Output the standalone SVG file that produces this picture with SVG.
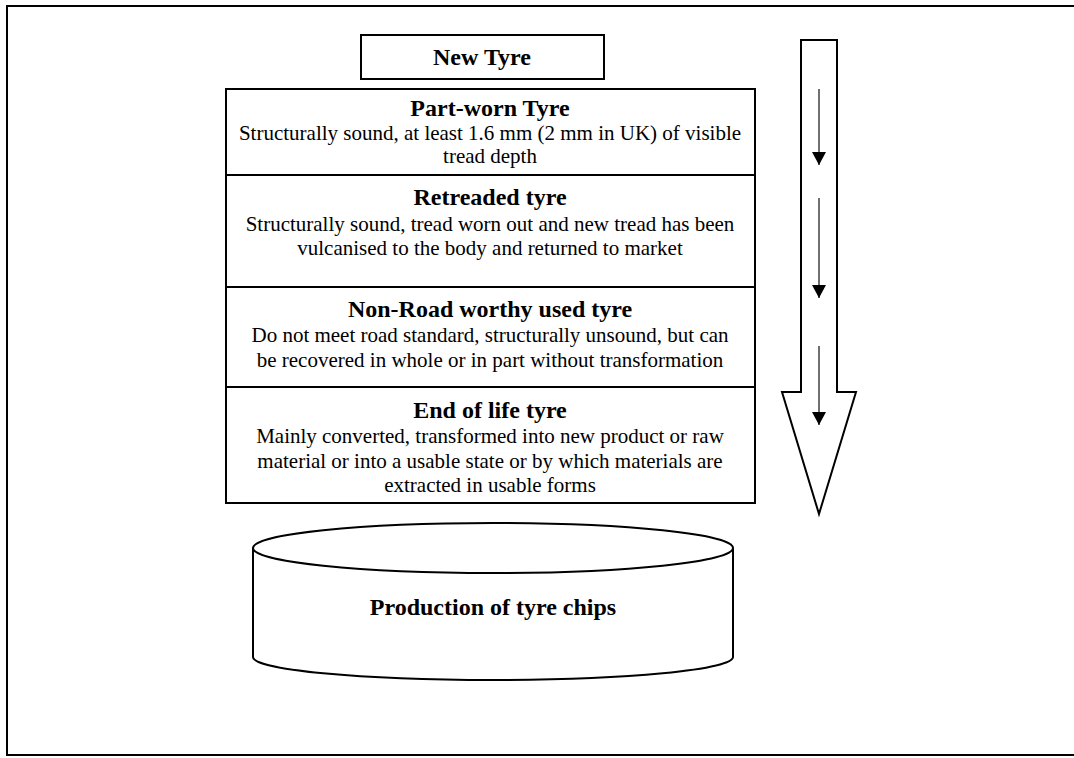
<svg xmlns="http://www.w3.org/2000/svg" width="1074" height="758" viewBox="0 0 1074 758">
<style>
.box{fill:#fff;stroke:#000;stroke-width:2}
.t{font-family:"Liberation Serif","Times New Roman",serif;font-weight:bold;font-size:24px;text-anchor:middle;fill:#000}
.b{font-family:"Liberation Serif","Times New Roman",serif;font-size:21px;text-anchor:middle;fill:#000}
.ln{stroke:#222;stroke-width:1.3;fill:none}
</style>
<defs>
<marker id="ah" viewBox="0 0 13 14" refX="13" refY="7" markerWidth="13" markerHeight="14" markerUnits="userSpaceOnUse" orient="auto"><path d="M0,0 L13,7 L0,14 z" fill="#000"/></marker>
</defs>
<rect x="7" y="6" width="1075" height="749" fill="#fff" stroke="#000" stroke-width="2"/>
<g id="new-tyre">
<rect class="box" x="361" y="35" width="243" height="44"/>
<text class="t" x="482" y="65">New Tyre</text>
</g>
<g id="part-worn">
<rect class="box" x="226" y="89" width="529" height="86"/>
<text class="t" x="490" y="116">Part-worn Tyre</text>
<text class="b" x="490" y="140">Structurally sound, at least 1.6 mm (2 mm in UK) of visible</text>
<text class="b" x="490" y="163">tread depth</text>
</g>
<g id="retreaded">
<rect class="box" x="226" y="175" width="529" height="112"/>
<text class="t" x="490" y="205">Retreaded tyre</text>
<text class="b" x="490" y="231">Structurally sound, tread worn out and new tread has been</text>
<text class="b" x="490" y="255">vulcanised to the body and returned to market</text>
</g>
<g id="non-road">
<rect class="box" x="226" y="287" width="529" height="100"/>
<text class="t" x="490" y="317">Non-Road worthy used tyre</text>
<text class="b" x="490" y="342">Do not meet road standard, structurally unsound, but can</text>
<text class="b" x="490" y="367">be recovered in whole or in part without transformation</text>
</g>
<g id="end-of-life">
<rect class="box" x="226" y="387" width="529" height="116"/>
<text class="t" x="490" y="418">End of life tyre</text>
<text class="b" x="490" y="443">Mainly converted, transformed into new product or raw</text>
<text class="b" x="490" y="468">material or into a usable state or by which materials are</text>
<text class="b" x="490" y="492">extracted in usable forms</text>
</g>
<g id="tyre-chips">
<path class="box" d="M253,548 L253,657 A240,23 0 0 0 733,657 L733,548"/>
<ellipse class="box" cx="493" cy="548" rx="240" ry="25"/>
<text class="t" x="493" y="615">Production of tyre chips</text>
</g>
<g id="flow-arrow">
<path class="box" d="M801,40 L837,40 L837,392 L856,392 L819,514 L782,392 L801,392 Z"/>
</g>
<g id="connectors">
<line class="ln" x1="819" y1="89" x2="819" y2="165" marker-end="url(#ah)"/>
<line class="ln" x1="819" y1="198" x2="819" y2="298" marker-end="url(#ah)"/>
<line class="ln" x1="819" y1="346" x2="819" y2="425" marker-end="url(#ah)"/>
</g>
</svg>
